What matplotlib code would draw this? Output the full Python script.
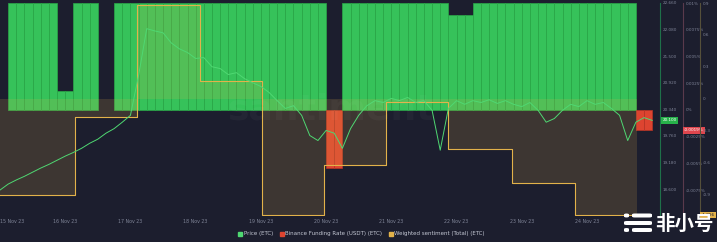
import numpy as np
import matplotlib
matplotlib.use('Agg')
import matplotlib.pyplot as plt
from matplotlib.patches import FancyBboxPatch
from matplotlib.lines import Line2D

# ---------------- data ----------------
date_labels = ['15 Nov 23', '16 Nov 23', '17 Nov 23', '18 Nov 23', '19 Nov 23',
               '20 Nov 23', '21 Nov 23', '22 Nov 23', '23 Nov 23', '24 Nov 23']
date_ticks = [0, 1, 2, 3, 4, 5, 6, 7, 8, 9]   # days since 15 Nov 00:00

step_days = 0.125  # 3-hour samples

price_values = [18.58, 18.71, 18.80, 18.88, 18.97, 19.06, 19.14, 19.23, 19.32, 19.40,
                19.49, 19.60, 19.69, 19.82, 19.92, 20.06, 20.21, 21.08, 22.10, 22.05,
                22.01, 21.79, 21.66, 21.58, 21.45, 21.47, 21.27, 21.23, 21.10, 21.14,
                21.01, 20.92, 20.84, 20.71, 20.53, 20.36, 20.42, 20.21, 19.77, 19.66,
                19.88, 19.82, 19.49, 19.92, 20.21, 20.42, 20.53, 20.49, 20.58, 20.53,
                20.60, 20.49, 20.53, 20.32, 19.45, 20.36, 20.53, 20.45, 20.53, 20.49,
                20.55, 20.47, 20.53, 20.45, 20.40, 20.49, 20.32, 20.06, 20.14, 20.32,
                20.45, 20.40, 20.53, 20.45, 20.49, 20.36, 20.21, 19.66, 20.06, 20.16,
                20.10]

funding_values = [0.0, 0.01, 0.01, 0.01, 0.01, 0.01, 0.01, 0.0018, 0.0018, 0.01,
                  0.01, 0.01, 0.0, 0.0, 0.01, 0.01, 0.01, 0.01, 0.01, 0.01,
                  0.01, 0.01, 0.01, 0.01, 0.01, 0.01, 0.01, 0.01, 0.01, 0.01,
                  0.01, 0.01, 0.01, 0.01, 0.01, 0.01, 0.01, 0.01, 0.01, 0.01,
                  -0.0054, -0.0054, 0.01, 0.01, 0.01, 0.01, 0.01, 0.01, 0.01, 0.01,
                  0.01, 0.01, 0.01, 0.01, 0.01, 0.0089, 0.0089, 0.0089, 0.01, 0.01,
                  0.01, 0.01, 0.01, 0.01, 0.01, 0.01, 0.01, 0.01, 0.01, 0.01,
                  0.01, 0.01, 0.01, 0.01, 0.01, 0.01, 0.01, 0.01, -0.0019, -0.0019]

sent_edges = [0, 1.15, 2.10, 3.07, 4.02, 4.97, 5.92, 6.87, 7.85, 8.82, 9.77]
sent_values = [-0.908, -0.173, 0.885, 0.166, -1.096, -0.625, -0.032, -0.475, -0.795, -1.096]

price_ticks = [18.60, 19.18, 19.76, 20.34, 20.92, 21.50, 22.08, 22.66]
funding_ticks = [0.01, 0.0075, 0.005, 0.0025, 0.0, -0.0025, -0.005, -0.0075]
sent_ticks = [0.9, 0.6, 0.3, 0.0, -0.3, -0.6, -0.9]

legend_labels = ['Price (ETC)', 'Binance Funding Rate (USDT) (ETC)', 'Weighted sentiment (Total) (ETC)']

# ---------------- style ----------------
BG = '#1c1e2e'
GREEN = '#36c25a'
GREEN_EDGE = '#2aa847'
RED = '#dd4430'
RED_EDGE = '#b83526'
YELLOW = '#e2b24a'
PRICE_C = '#4fd872'
TXT = '#7f8497'
FS = 3.0

W, H = 717, 242
fig = plt.figure(figsize=(W / 100, H / 100), dpi=100, facecolor=BG)
ax = fig.add_axes([0, 1 - 216 / H, 660 / W, 213 / H])
ax.set_facecolor(BG)

# funding bars
f = np.array(funding_values)
t_f = np.arange(len(f)) * step_days
mask = f != 0
colors = [GREEN if v > 0 else RED for v in f[mask]]
edges = [GREEN_EDGE if v > 0 else RED_EDGE for v in f[mask]]
ax.bar(t_f[mask], f[mask], width=step_days, align='edge', color=colors,
       edgecolor=edges, linewidth=0.5, zorder=2)
ax.set_xlim(0, 10.12)
ax.set_ylim(-0.00991, 0.01)

# sentiment
ax_s = ax.twinx()
sv = list(sent_values) + [sent_values[-1]]
ax_s.fill_between(sent_edges, 0, sv, step='post', color=YELLOW, alpha=0.17,
                  linewidth=0, zorder=1)
ax_s.step(sent_edges, sv, where='post', color=YELLOW, linewidth=0.8, zorder=2)
ax_s.set_ylim(-1.106, 0.9)

# price
ax_p = ax.twinx()
t_p = np.arange(len(price_values)) * step_days
ax_p.plot(t_p, price_values, color=PRICE_C, linewidth=0.7, zorder=3)
ax_p.set_ylim(18.014, 22.66)

for a in (ax, ax_s, ax_p):
    for s in ('top', 'bottom', 'left'):
        a.spines[s].set_visible(False)
ax_s.patch.set_visible(False)
ax_p.patch.set_visible(False)

ax.yaxis.tick_right()
ax.spines['right'].set_position(('axes', 683 / 660))
ax.spines['right'].set_color('#5a3a4c')
ax.spines['right'].set_linewidth(0.8)
ax_p.spines['right'].set_position(('axes', 1.0))
ax_p.spines['right'].set_color('#1e7049')
ax_p.spines['right'].set_linewidth(0.8)
ax_s.spines['right'].set_position(('axes', 700 / 660))
ax_s.spines['right'].set_color('#55503a')
ax_s.spines['right'].set_linewidth(0.8)

ax.set_yticks(funding_ticks, [('%g' % v) + '%' for v in funding_ticks])
ax_p.set_yticks(price_ticks, ['%.3f' % v for v in price_ticks])
ax_s.set_yticks(sent_ticks, ['%g' % v for v in sent_ticks])
for a in (ax, ax_s, ax_p):
    a.tick_params(axis='y', length=0, pad=1.8, labelsize=FS, labelcolor=TXT)

ax.set_xticks(date_ticks, date_labels)
ax.tick_params(axis='x', length=0, pad=2.0, labelsize=3.4, labelcolor=TXT)
ax.get_xticklabels()[0].set_ha('left')

# last value boxes
ax_p.annotate('%.3f' % price_values[-1], xy=(1.0, price_values[-1]),
              xycoords=('axes fraction', 'data'), xytext=(1.6, 0),
              textcoords='offset points', ha='left', va='center', fontsize=FS,
              color='white', annotation_clip=False,
              bbox=dict(boxstyle='square,pad=0.3', fc='#27b24a', ec='none'))
ax.annotate(('%g' % funding_values[-1]) + '%', xy=(683 / 660, funding_values[-1]),
            xycoords=('axes fraction', 'data'), xytext=(0.6, 0),
            textcoords='offset points', ha='left', va='center', fontsize=FS,
            color='white', annotation_clip=False,
            bbox=dict(boxstyle='square,pad=0.3', fc='#e0464e', ec='none'))
ax_s.annotate('%g' % sent_values[-1], xy=(700 / 660, sent_values[-1]),
              xycoords=('axes fraction', 'data'), xytext=(1.2, 0),
              textcoords='offset points', ha='left', va='center', fontsize=FS,
              color='#1c1e2e', annotation_clip=False,
              bbox=dict(boxstyle='square,pad=0.3', fc=YELLOW, ec='none'))

# watermark
ax_p.text(0.5, 0.5, 'santiment', transform=ax_p.transAxes, fontsize=26,
          color='white', alpha=0.03, ha='center', va='center', fontweight='bold')

# legend
handles = [Line2D([], [], marker='s', ls='', color=c, markersize=2.8)
           for c in (PRICE_C, RED, YELLOW)]
fig.legend(handles, legend_labels, loc='center', bbox_to_anchor=(0.504, 1 - 234 / H),
           ncol=3, fontsize=4, frameon=False, labelcolor='#c4c8d4',
           handletextpad=0.2, columnspacing=1.2, handlelength=0.8)

# source logo
fig.text(684 / W, 1 - 224 / H, '非小号', family=['Noto Sans CJK SC', 'DejaVu Sans'],
         fontsize=14, fontweight='bold', color='white', ha='center', va='center')
for (x0, x1, yc) in [(624, 629, 215.5), (632, 652, 215.5), (624, 652, 223),
                     (624, 629, 230), (632, 652, 230)]:
    fig.patches.append(FancyBboxPatch(((x0) / W, 1 - (yc + 2) / H), (x1 - x0) / W, 4 / H,
                                      boxstyle='round,pad=0,rounding_size=0.004',
                                      transform=fig.transFigure, fc='white', ec='none'))

fig.savefig('out.png', dpi=100, facecolor=BG)
